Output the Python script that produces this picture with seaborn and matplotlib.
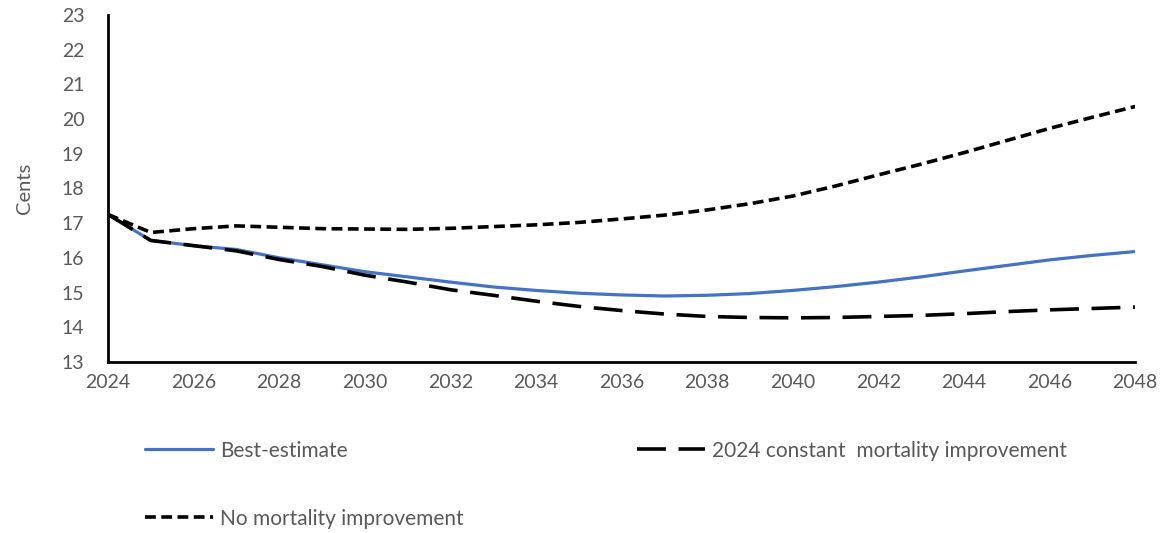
import numpy as np
import pandas as pd
import matplotlib
matplotlib.use("Agg")
import matplotlib.pyplot as plt
import seaborn as sns

years = list(range(2024, 2049))
best_estimate = [17.25, 16.50, 16.35, 16.24, 16.00, 15.80, 15.60, 15.45, 15.30, 15.16, 15.06,
                 14.98, 14.93, 14.90, 14.92, 14.97, 15.06, 15.17, 15.30, 15.45, 15.62, 15.78,
                 15.94, 16.07, 16.18]
constant_improvement = [17.25, 16.50, 16.35, 16.20, 15.95, 15.75, 15.50, 15.30, 15.08, 14.92,
                        14.75, 14.60, 14.48, 14.38, 14.31, 14.28, 14.27, 14.28, 14.31, 14.34,
                        14.39, 14.45, 14.50, 14.54, 14.58]
no_improvement = [17.25, 16.73, 16.84, 16.92, 16.88, 16.84, 16.83, 16.82, 16.85, 16.90, 16.95,
                  17.02, 17.12, 17.23, 17.38, 17.56, 17.78, 18.07, 18.39, 18.70, 19.03, 19.38,
                  19.73, 20.05, 20.36]
series_names = ["Best-estimate", "2024 constant  mortality improvement", "No mortality improvement"]
x_ticks = list(range(2024, 2049, 2))
y_ticks = list(range(13, 24))

df = pd.DataFrame({
    "Year": years * 3,
    "Value": best_estimate + constant_improvement + no_improvement,
    "Series": [series_names[0]] * len(years) + [series_names[1]] * len(years) + [series_names[2]] * len(years),
})

sns.set_theme(style="white")
plt.rcParams["font.family"] = ["Lato", "DejaVu Sans"]

grey = "#595959"
fig = plt.figure(figsize=(11.69, 5.33), dpi=100)
ax = fig.add_axes([0.0924, 0.321, 0.8786, 0.651])

palette = {series_names[0]: "#4472C4", series_names[1]: "black", series_names[2]: "black"}
dashes = {series_names[0]: "", series_names[1]: (8, 3.5), series_names[2]: (3, 1.5)}
sizes = {series_names[0]: 2.3, series_names[1]: 2.6, series_names[2]: 2.6}

sns.lineplot(data=df, x="Year", y="Value", hue="Series", style="Series", size="Series",
             palette=palette, dashes=dashes, sizes=sizes, ax=ax, legend=False)

ax.set_xlim(2024, 2048)
ax.set_ylim(13, 23)
ax.set_xticks(x_ticks)
ax.set_yticks(y_ticks)
ax.set_xlabel("")
ax.set_ylabel("Cents", color=grey, fontsize=14.5, labelpad=21)
ax.tick_params(axis="both", direction="in", length=6, width=1.5, color="black",
               labelcolor=grey, labelsize=14)
ax.tick_params(axis="x", pad=9)
ax.tick_params(axis="y", pad=17)
for s in ["top", "right"]:
    ax.spines[s].set_visible(False)
for s in ["left", "bottom"]:
    ax.spines[s].set_color("black")
    ax.spines[s].set_linewidth(2)

lines = ax.get_lines()[:3]
order = [0, 2, 1]
leg = fig.legend([lines[i] for i in order], [series_names[i] for i in order],
                 loc="upper left", bbox_to_anchor=(0.108, 0.2085),
                 ncol=2, frameon=False, fontsize=15, handlelength=3.27, handletextpad=0.35,
                 columnspacing=8.3, labelspacing=2.3, labelcolor=grey)

fig.savefig("out.png", dpi=100)
